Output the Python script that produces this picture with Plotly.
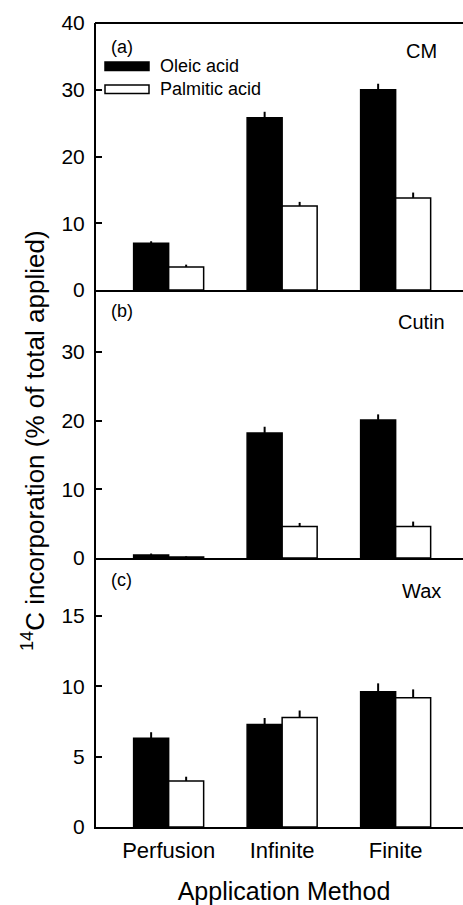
import plotly.graph_objects as go

methods = ["Perfusion", "Infinite", "Finite"]
series_names = ["Oleic acid", "Palmitic acid"]

cm_oleic = [7.0, 25.8, 30.0]
cm_oleic_err = [0.3, 0.9, 0.9]
cm_palmitic = [3.45, 12.6, 13.8]
cm_palmitic_err = [0.35, 0.6, 0.8]

cutin_oleic = [0.45, 18.2, 20.1]
cutin_oleic_err = [0.2, 0.9, 0.8]
cutin_palmitic = [0.15, 4.6, 4.6]
cutin_palmitic_err = [0.1, 0.5, 0.7]

wax_oleic = [6.3, 7.27, 9.6]
wax_oleic_err = [0.43, 0.47, 0.6]
wax_palmitic = [3.27, 7.77, 9.17]
wax_palmitic_err = [0.3, 0.5, 0.6]

panel_labels = ["(a)", "(b)", "(c)"]
panel_names = ["CM", "Cutin", "Wax"]
yticks_top = [0, 10, 20, 30, 40]
yticks_mid = [0, 10, 20, 30]
yticks_bot = [0, 5, 10, 15]

FONT = "Liberation Sans, Arial, sans-serif"
# figure is a bit wider than the window so the plot frame runs off the right edge
W, H = 472, 905
L, R, T, B = 96, 0, 23, 78
PH = H - T - B
PW = W - L - R

# category centres at 169 / 283 / 396 px -> 113.5 px per category
XLO = -0.64
XHI = XLO + PW / 113.5

bounds = [(23, 290), (290, 558), (558, 827)]
def dom(top, bot):
    return [(H - B - bot) / PH, (H - B - top) / PH]

fig = go.Figure()

panels = [
    (cm_oleic, cm_oleic_err, cm_palmitic, cm_palmitic_err, "x", "y"),
    (cutin_oleic, cutin_oleic_err, cutin_palmitic, cutin_palmitic_err, "x2", "y2"),
    (wax_oleic, wax_oleic_err, wax_palmitic, wax_palmitic_err, "x3", "y3"),
]

for i, (ol, ole, pa, pae, xa, ya) in enumerate(panels):
    fig.add_trace(go.Bar(
        x=methods, y=ol, name=series_names[0], xaxis=xa, yaxis=ya,
        marker=dict(color="black", line=dict(color="black", width=1.5)),
        error_y=dict(type="data", array=ole, arrayminus=[0]*3, symmetric=False,
                     color="black", thickness=2, width=0),
        showlegend=False, hoverinfo="skip",
    ))
    fig.add_trace(go.Bar(
        x=methods, y=pa, name=series_names[1], xaxis=xa, yaxis=ya,
        marker=dict(color="white", line=dict(color="black", width=1.5)),
        error_y=dict(type="data", array=pae, arrayminus=[0]*3, symmetric=False,
                     color="black", thickness=2, width=0),
        showlegend=False, hoverinfo="skip",
    ))

xcommon = dict(
    range=[XLO, XHI], showline=True, linecolor="black", linewidth=2,
    mirror=False, ticks="", showgrid=False, zeroline=False,
    tickfont=dict(family=FONT, size=22, color="black"),
)
ycommon = dict(
    showline=True, linecolor="black", linewidth=2, ticks="inside", ticklen=6,
    tickwidth=1.5, tickcolor="black", showgrid=False, zeroline=False, mirror=False,
    tickfont=dict(family=FONT, size=21, color="black"), ticklabelstandoff=5,
)

fig.update_layout(
    width=W, height=H,
    margin=dict(l=L, r=R, t=T, b=B, autoexpand=False),
    paper_bgcolor="white", plot_bgcolor="white",
    barmode="group", bargap=0.383, bargroupgap=0,
    showlegend=False,
    xaxis=dict(**xcommon, anchor="y", showticklabels=False),
    xaxis2=dict(**xcommon, anchor="y2", matches="x", showticklabels=False),
    xaxis3=dict(**xcommon, anchor="y3", matches="x", showticklabels=True,
                ticklabelstandoff=3,
                title=dict(text="Application Method", standoff=20,
                           font=dict(family=FONT, size=25, color="black"))),
    yaxis=dict(**ycommon, domain=dom(*bounds[0]), range=[0, 40], tickvals=yticks_top, anchor="x"),
    yaxis2=dict(**ycommon, domain=dom(*bounds[1]), range=[0, 39], tickvals=yticks_mid, anchor="x2"),
    yaxis3=dict(**ycommon, domain=dom(*bounds[2]), range=[0, 19.1], tickvals=yticks_bot, anchor="x3"),
)

def px2x(px):
    return (px - L) / PW
def px2y(py):
    return (H - B - py) / PH

# top frame line of the upper panel
fig.add_shape(type="line", xref="paper", yref="paper", x0=px2x(95), x1=1, y0=1, y1=1,
              line=dict(color="black", width=2))

label_y = [47.5, 311, 580]
name_y = [50.5, 322, 590.5]
for i in range(3):
    fig.add_annotation(text=panel_labels[i], xref="paper", yref="paper",
                       x=px2x(109), y=px2y(label_y[i]), xanchor="left", yanchor="middle",
                       showarrow=False, font=dict(family=FONT, size=18, color="black"))
    fig.add_annotation(text=panel_names[i], xref="paper", yref="paper",
                       x=px2x(421), y=px2y(name_y[i]), xanchor="center", yanchor="middle",
                       showarrow=False, font=dict(family=FONT, size=20, color="black"))

# legend (top panel)
legend_rows = [(62, 70.5, "black"), (85, 93.5, "white")]
for (y0, y1, col), name in zip(legend_rows, series_names):
    fig.add_shape(type="rect", xref="paper", yref="paper",
                  x0=px2x(105), x1=px2x(149), y0=px2y(y1), y1=px2y(y0),
                  fillcolor=col, line=dict(color="black", width=1.5))
    fig.add_annotation(text=name, xref="paper", yref="paper",
                       x=px2x(158), y=px2y((y0 + y1) / 2), xanchor="left", yanchor="middle",
                       showarrow=False, font=dict(family=FONT, size=18, color="black"))

# y-axis title
fig.add_annotation(text="<sup>14</sup>C incorporation (% of total applied)",
                   xref="paper", yref="paper", x=px2x(33), y=px2y(441),
                   xanchor="center", yanchor="middle", textangle=-90, showarrow=False,
                   font=dict(family=FONT, size=26, color="black"))

fig.write_html(
    "out.html", config={"displayModeBar": False},
    post_script=("document.documentElement.style.overflow='hidden';"
                 "document.body.style.overflow='hidden';"
                 "document.body.style.margin='0px';document.body.style.padding='0px';"),
)
